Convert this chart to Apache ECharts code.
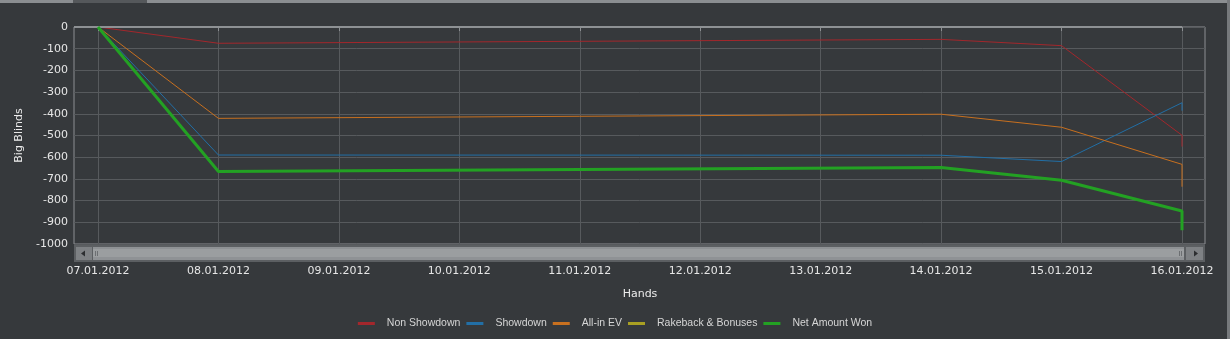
<!DOCTYPE html>
<html><head><meta charset="utf-8">
<script src="https://cdn.jsdelivr.net/npm/echarts@6/dist/echarts.min.js"></script>
<style>html,body{margin:0;padding:0;background:#36393c;}#c{width:1230px;height:339px;}</style>
</head><body><div id="c"></div>
<script>
const dates = ['07.01.2012','08.01.2012','09.01.2012','10.01.2012','11.01.2012','12.01.2012','13.01.2012','14.01.2012','15.01.2012','16.01.2012'];
const yTicks = [0,-100,-200,-300,-400,-500,-600,-700,-800,-900,-1000];
// [dateIndex, big blinds]
const nonShowdown = [[0,0],[1,-75],[7,-57],[8,-86],[9,-499],[9,-551]];
const showdown    = [[0,0],[1,-590],[7,-591],[8,-620],[9,-349],[9,-386]];
const allinEV     = [[0,0],[1,-421],[7,-402],[8,-462],[9,-633],[9,-736]];
const rakeback    = [[0,0],[1,0],[7,0],[8,0],[9,0],[9,0]];
const netWon      = [[0,0],[1,-666],[7,-648],[8,-706],[9,-848],[9,-937]];

const names = ['Non Showdown','Showdown','All-in EV','Rakeback & Bonuses','Net Amount Won'];
const colors = ['#a3272c','#226fa6','#c8701f','#a9a023','#23a123'];
const widths = [1,1,1,1,3];
const datas = [nonShowdown, showdown, allinEV, rakeback, netWon];

const chart = echarts.init(document.getElementById('c'));
const lbl = {color:'#e6e6e6', fontFamily:'DejaVu Sans', fontSize:11};
const option = {
  backgroundColor:'#36393c',
  animation:false,
  grid:[
    {left:74,right:25,top:27,bottom:95,show:true,borderColor:'#8c8f92',borderWidth:1,backgroundColor:'transparent'},
    {left:98,right:48,top:27,bottom:95}
  ],
  xAxis:[
    {gridIndex:0,type:'value',min:0,max:1,show:false},
    {gridIndex:1,type:'category',data:dates,boundaryGap:false,position:'bottom',offset:18,
     axisLine:{show:false},axisTick:{show:true,length:4,lineStyle:{color:'#8c8f92'}},
     axisLabel:Object.assign({margin:4},lbl),
     splitLine:{show:true,lineStyle:{color:'#575a5d',width:1}},
     name:'Hands',nameLocation:'middle',nameGap:27,nameTextStyle:{color:'#ececec',fontFamily:'DejaVu Sans',fontSize:11}}
  ],
  yAxis:[
    {gridIndex:0,type:'value',min:-1000,max:0,interval:100,
     axisLine:{show:false},axisTick:{show:false},
     axisLabel:Object.assign({margin:6,formatter:v=>String(v)},lbl),
     splitLine:{show:true,lineStyle:{color:'#575a5d',width:1}},
     name:'Big Blinds',nameLocation:'middle',nameGap:44,nameRotate:90,nameTextStyle:{color:'#ececec',fontFamily:'DejaVu Sans',fontSize:11}},
    {gridIndex:1,type:'value',min:-1000,max:0,show:false}
  ],
  legend:{
    bottom:5,left:'center',itemWidth:17,itemHeight:3,itemGap:6,icon:'rect',
    textStyle:{color:'#d6d6d6',fontFamily:'Liberation Sans',fontSize:10.5,padding:[0,0,0,7]},
    data:names
  },
  series: names.map((n,i)=>({
    name:n,type:'line',xAxisIndex:1,yAxisIndex:1,data:datas[i],
    symbol:'none',z:i===3?1:(i===4?5:3),
    lineStyle:{color:colors[i],width:widths[i]},itemStyle:{color:colors[i]}
  }))
};
chart.setOption(option);

// decorative chrome: zero baseline, scrollbar, frame strips
const pLeft = 74, pRight = 1205;
const lastX = chart.convertToPixel({xAxisIndex:1}, dates.length-1);
const zeroY = chart.convertToPixel({yAxisIndex:0}, 0);
const sbY = zeroY + 218;
chart.setOption({graphic:[
  {type:'rect',shape:{x:0,y:0,width:1230,height:3},style:{fill:'#8b8e91'},z:100},
  {type:'rect',shape:{x:73,y:0,width:74,height:3},style:{fill:'#55585b'},z:101},
  {type:'rect',shape:{x:1227,y:0,width:3,height:339},style:{fill:'#76797c'},z:100},
  {type:'line',shape:{x1:pLeft,y1:zeroY,x2:lastX,y2:zeroY},style:{stroke:'#8e9194',lineWidth:2},z:4},
  {type:'rect',shape:{x:pLeft,y:sbY,width:pRight-pLeft,height:17},style:{fill:'#5c5f62'},z:100},
  {type:'rect',shape:{x:pLeft+2,y:sbY+2,width:16,height:13},style:{fill:'#7e8184'},z:101},
  {type:'polygon',shape:{points:[[pLeft+7,sbY+8.5],[pLeft+11,sbY+5.5],[pLeft+11,sbY+11.5]]},style:{fill:'#2c2e30'},z:102},
  {type:'rect',shape:{x:pLeft+19,y:sbY+2,width:lastX-pLeft-17,height:13},style:{fill:'#8f9295'},z:101},
  {type:'rect',shape:{x:pLeft+19,y:sbY+4,width:lastX-pLeft-17,height:8},style:{fill:'#9b9ea0'},z:102},
  {type:'rect',shape:{x:pLeft+21,y:sbY+6,width:1,height:5},style:{fill:'#6c6f72'},z:103},
  {type:'rect',shape:{x:pLeft+23,y:sbY+6,width:1,height:5},style:{fill:'#6c6f72'},z:103},
  {type:'rect',shape:{x:lastX-3,y:sbY+6,width:1,height:5},style:{fill:'#6c6f72'},z:103},
  {type:'rect',shape:{x:lastX-1,y:sbY+6,width:1,height:5},style:{fill:'#6c6f72'},z:103},
  {type:'rect',shape:{x:lastX+4,y:sbY+2,width:pRight-lastX-6,height:13},style:{fill:'#7e8184'},z:101},
  {type:'polygon',shape:{points:[[lastX+16,sbY+8.5],[lastX+12,sbY+5.5],[lastX+12,sbY+11.5]]},style:{fill:'#2c2e30'},z:102}
]});
</script></body></html>
